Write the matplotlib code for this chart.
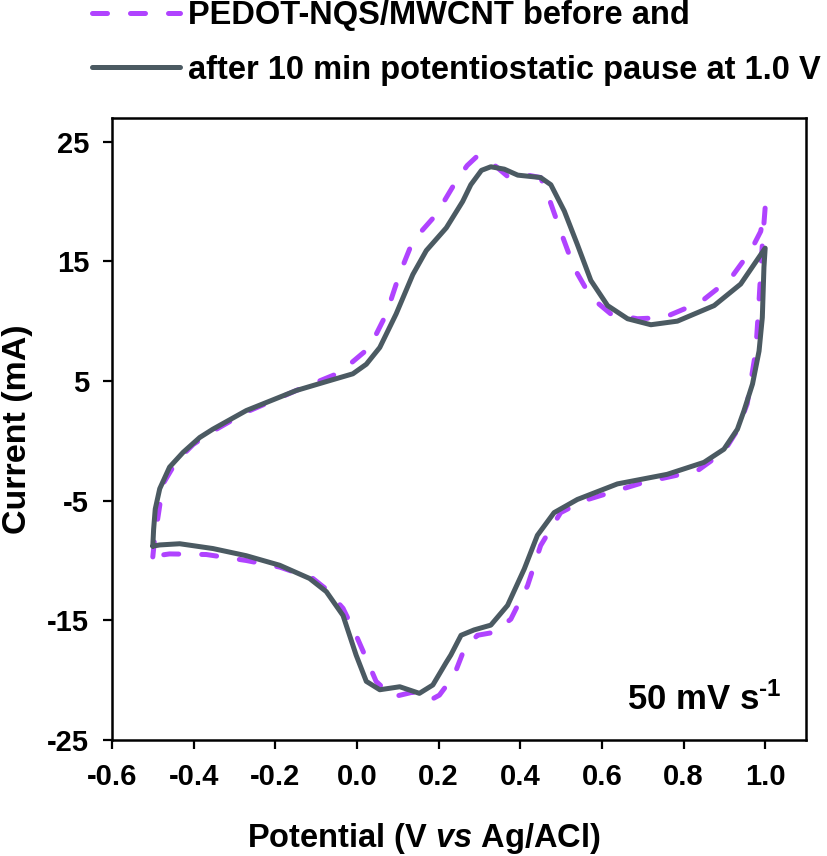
import numpy as np
import matplotlib
matplotlib.use("Agg")
import matplotlib.pyplot as plt

plt.rcParams['font.family'] = ['Liberation Sans', 'DejaVu Sans']
plt.rcParams['font.weight'] = 'bold'
plt.rcParams['axes.unicode_minus'] = False
plt.rcParams['mathtext.fontset'] = 'custom'
plt.rcParams['mathtext.rm'] = 'Liberation Sans:bold'
plt.rcParams['mathtext.bf'] = 'Liberation Sans:bold'
plt.rcParams['mathtext.it'] = 'Liberation Sans:italic:bold'

# before pause (dashed): anodic sweep then cathodic sweep
before_v = [-0.500, -0.495, -0.487, -0.475, -0.442, -0.401, -0.353, -0.271, -0.149, -0.042,
            0.031, 0.072, 0.104, 0.137, 0.194, 0.243, 0.270, 0.295, 0.320, 0.345, 0.369,
            0.410, 0.450, 0.467, 0.499, 0.532, 0.573, 0.622, 0.687, 0.752, 0.842, 0.916,
            0.965, 0.989, 1.000,
            0.993, 0.985, 0.977, 0.956, 0.932, 0.899, 0.834, 0.700, 0.556, 0.499, 0.450,
            0.418, 0.377, 0.336, 0.295, 0.263, 0.238, 0.202, 0.178, 0.137, 0.088, 0.047,
            0.023, -0.002, -0.034, -0.075, -0.108, -0.189, -0.271, -0.369, -0.459, -0.490,
            -0.500]
before_i = [-9.7, -8.0, -6.3, -3.6, -1.7, -0.3, 0.8, 2.4, 4.2, 5.7,
            7.8, 10.6, 13.9, 16.7, 18.9, 21.7, 23.0, 23.8, 23.5, 22.8, 22.1,
            22.25, 22.0, 20.6, 17.5, 14.45, 12.0, 10.6, 10.2, 10.3, 11.6, 13.6,
            15.9, 17.5, 19.5,
            16.4, 11.7, 7.5, 3.1, 0.9, -0.9, -2.5, -3.5, -5.0, -6.0, -8.75,
            -12.1, -14.9, -16.0, -16.25, -17.4, -19.6, -21.25, -21.7, -21.0, -21.4, -20.1,
            -18.2, -16.25, -14.0, -12.4, -11.5, -10.55, -10.0, -9.5, -9.45, -9.6,
            -9.7]

# after 10 min potentiostatic pause at 1.0 V (solid)
after_v = [-0.500, -0.498, -0.494, -0.483, -0.459, -0.426, -0.385, -0.353, -0.271, -0.149,
           -0.067, -0.010, 0.023, 0.056, 0.096, 0.137, 0.170, 0.219, 0.259, 0.279, 0.305,
           0.328, 0.361, 0.394, 0.450, 0.475, 0.508, 0.540, 0.573, 0.614, 0.663, 0.720,
           0.785, 0.875, 0.940, 1.000,
           0.997, 0.993, 0.985, 0.969, 0.948, 0.932, 0.899, 0.850, 0.760, 0.638, 0.540,
           0.483, 0.442, 0.410, 0.369, 0.328, 0.287, 0.255, 0.230, 0.219, 0.186, 0.153,
           0.105, 0.056, 0.023, -0.002, -0.034, -0.075, -0.116, -0.189, -0.271, -0.353,
           -0.434, -0.483, -0.500]
after_i = [-8.8, -7.4, -5.7, -4.0, -2.2, -0.97, 0.28, 0.97, 2.53, 4.2,
           5.03, 5.6, 6.4, 7.8, 10.6, 13.9, 15.9, 17.8, 20.0, 21.4, 22.6,
           22.9, 22.7, 22.2, 22.0, 21.4, 19.2, 16.4, 13.4, 11.3, 10.2, 9.7,
           10.0, 11.3, 13.1, 16.1,
           14.5, 10.3, 7.5, 4.75, 2.5, 0.97, -0.7, -1.8, -2.8, -3.6, -4.9,
           -6.0, -7.9, -10.7, -13.75, -15.4, -15.8, -16.25, -17.9, -18.5, -20.4, -21.1,
           -20.55, -20.8, -20.1, -17.9, -14.6, -12.6, -11.5, -10.4, -9.6, -9.0,
           -8.6, -8.7, -8.8]

xticks = [-0.6, -0.4, -0.2, 0.0, 0.2, 0.4, 0.6, 0.8, 1.0]
yticks = [-25, -15, -5, 5, 15, 25]

fig = plt.figure(figsize=(8.27, 8.56), dpi=100)
ax = fig.add_axes([0.1354, 0.1355, 0.8392, 0.727])

ax.plot(before_v, before_i, color='#B043FF', lw=3.6, ls=(0, (3.0, 4.6)),
        dash_capstyle='round', dash_joinstyle='round', label='PEDOT-NQS/MWCNT before and')
ax.plot(after_v, after_i, color='#4B5A62', lw=3.6, solid_capstyle='round',
        solid_joinstyle='round', label='after 10 min potentiostatic pause at 1.0 V')

ax.set_xlim(-0.6, 1.1)
ax.set_ylim(-25, 27)
ax.set_xticks(xticks)
ax.set_xticklabels(['%.1f' % v for v in xticks])
ax.set_yticks(yticks)
ax.tick_params(direction='out', length=6.5, width=1.6, labelsize=21, pad=10)
for s in ax.spines.values():
    s.set_linewidth(1.8)

ax.set_xlabel(r'Potential (V $\it{vs}$ Ag/ACl)', fontsize=23.5, fontweight='bold', labelpad=22)
ax.xaxis.label.set_x(0.45)
ax.set_ylabel('Current (mA)', fontsize=24.5, fontweight='bold', labelpad=10)

ax.text(0.965, 0.048, r'50 mV s$^{\text{-1}}$', transform=ax.transAxes, ha='right',
        va='baseline', fontsize=25, fontweight='bold')

fig.legend(loc='upper left', bbox_to_anchor=(0.111, 1.0), frameon=False,
           fontsize=23.5, handlelength=2.7, handletextpad=0.25, labelspacing=0.72,
           borderpad=0, borderaxespad=0)

fig.savefig('out.png', dpi=100)
